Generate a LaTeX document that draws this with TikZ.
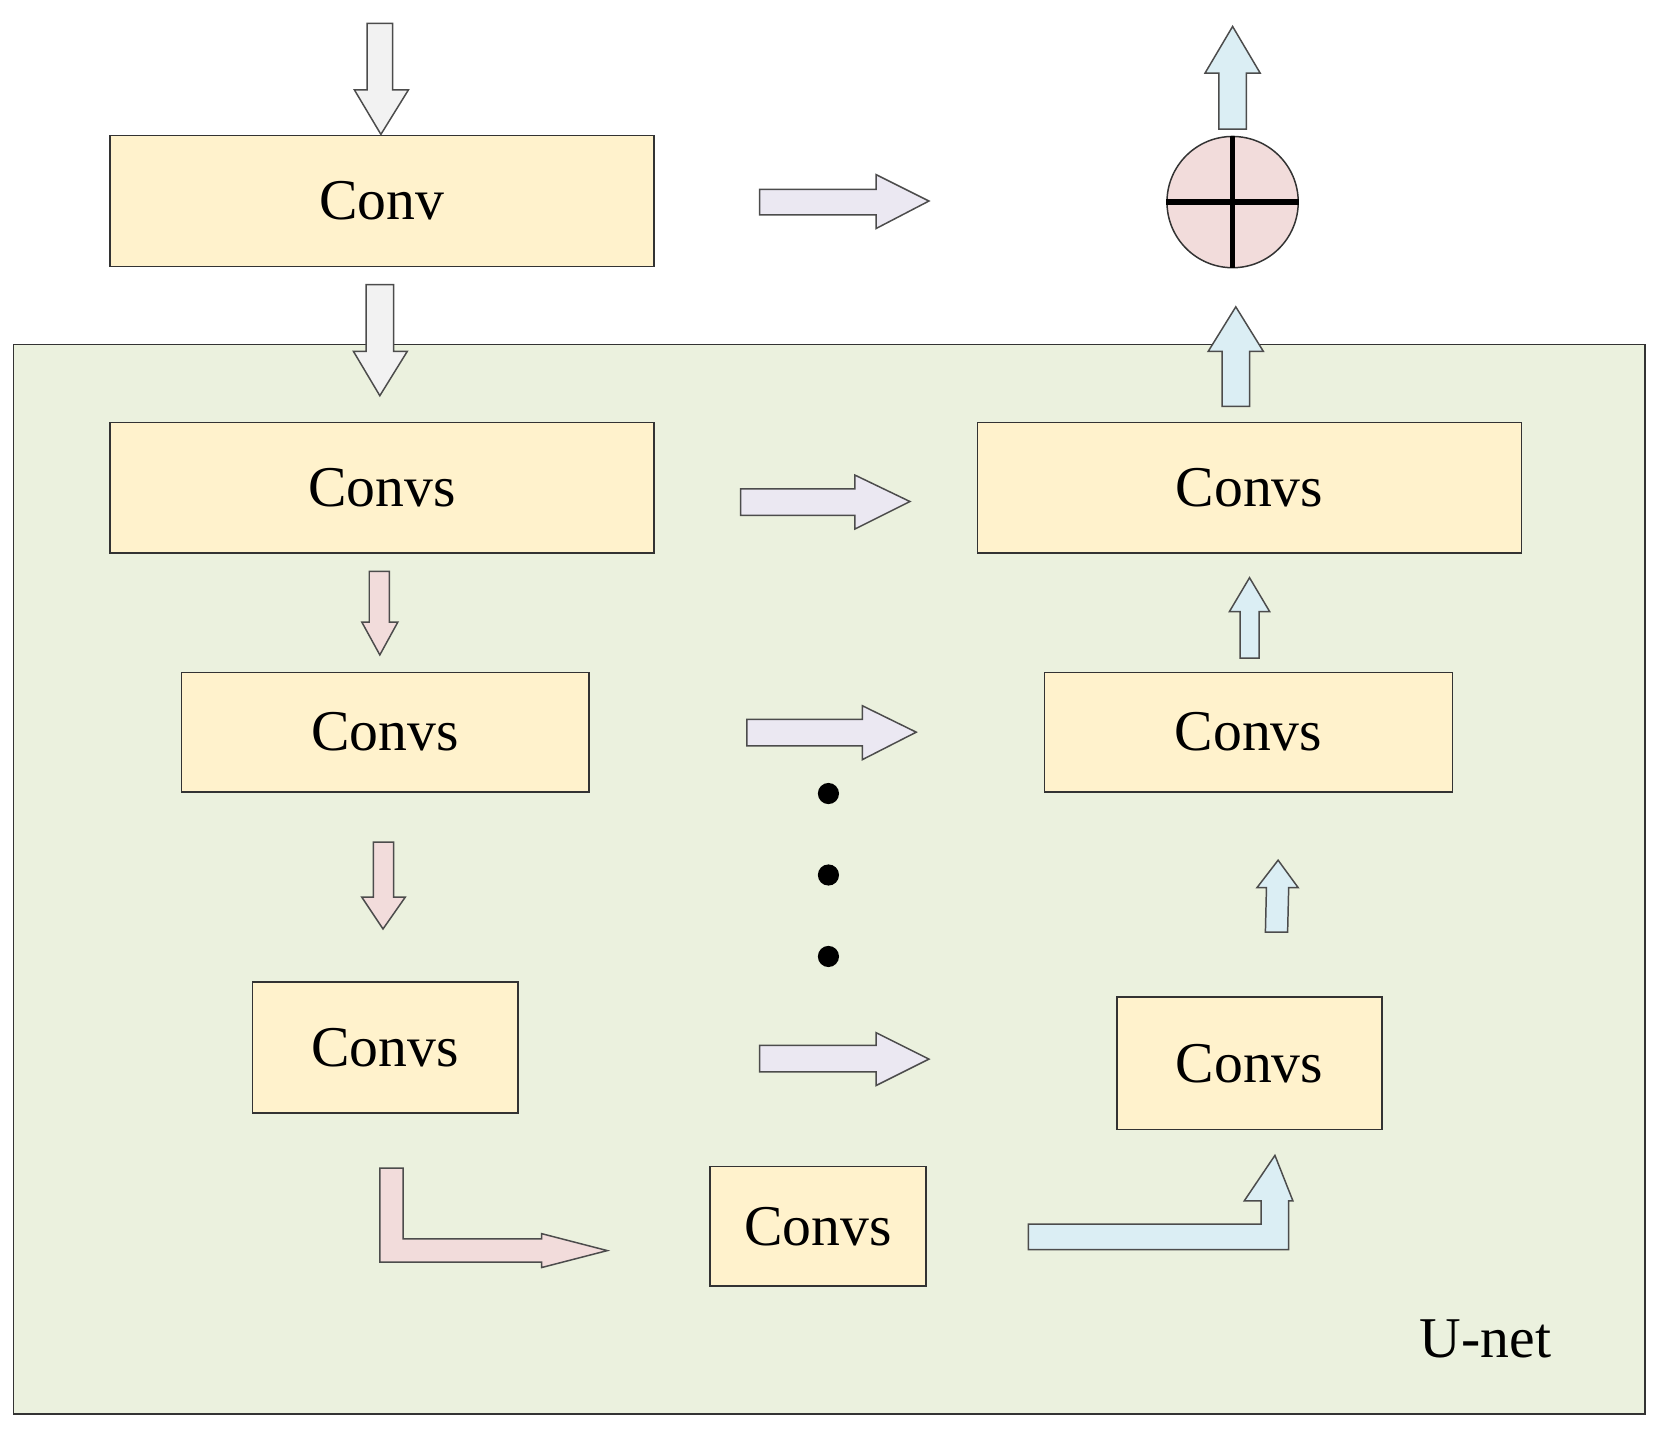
\documentclass[tikz,border=0pt]{standalone}
\usepackage{fontspec}
\setmainfont{Liberation Serif}
\begin{document}
\begin{tikzpicture}[x=0.01cm,y=-0.01cm,
  box/.style={draw=black!80,fill=yel,inner sep=0,font=\fontsize{15.5}{17}\selectfont},
  ga/.style={draw=black!70,fill=gry,line width=0.4pt},
  pa/.style={draw=black!70,fill=pnk,line width=0.4pt},
  la/.style={draw=black!70,fill=lav,line width=0.4pt},
  ba/.style={draw=black!70,fill=blu,line width=0.4pt}]
\definecolor{yel}{HTML}{FFF2CC}
\definecolor{gry}{HTML}{F2F2F2}
\definecolor{pnk}{HTML}{F2DCDB}
\definecolor{lav}{HTML}{EBE8F2}
\definecolor{blu}{HTML}{DBEEF4}
\definecolor{grn}{HTML}{EBF1DE}
\useasboundingbox (0,0) rectangle (1568,1354);
\node[draw=black!80,fill=grn,minimum width=15.41cm,minimum height=10.1cm,anchor=north west,inner sep=0] (unet) at (12,325) {};
\node[font=\fontsize{15.5}{17}\selectfont] (ulab) at (1404,1265) {U-net};
% boxes
\node[box,minimum width=5.14cm,minimum height=1.24cm] (c0) at (361,190) {Conv};
\node[box,minimum width=5.14cm,minimum height=1.23cm] (d1) at (361,461) {Convs};
\node[box,minimum width=5.14cm,minimum height=1.23cm] (u1) at (1181,461) {Convs};
\node[box,minimum width=3.85cm,minimum height=1.13cm] (d2) at (364,692) {Convs};
\node[box,minimum width=3.85cm,minimum height=1.13cm] (u2) at (1180,692) {Convs};
\node[box,minimum width=2.51cm,minimum height=1.24cm] (d3) at (364,990) {Convs};
\node[box,minimum width=2.5cm,minimum height=1.25cm] (u3) at (1181,1005) {Convs};
\node[box,minimum width=2.04cm,minimum height=1.13cm] (bn) at (773,1159) {Convs};
% circle
\node[draw=black!80,fill=pnk,circle,minimum size=1.24cm,inner sep=0] (sum) at (1165,191) {};
\draw[line width=1.5pt] (sum.west) -- (sum.east) (sum.north) -- (sum.south);
% arrows
\draw[ga] (347,22) -- (371,22) -- (371,85) -- (386,85) -- (360,127) -- (335,85) -- (347,85) -- cycle;
\draw[ga] (346,269) -- (372,269) -- (372,332) -- (385,332) -- (359,374) -- (334,332) -- (346,332) -- cycle;
\draw[la] (718,179) -- (828,179) -- (828,165) -- (878,190) -- (828,216) -- (828,203) -- (718,203) -- cycle;
\draw[la] (700,462) -- (808,462) -- (808,449) -- (860,474) -- (808,500) -- (808,487) -- (700,487) -- cycle;
\draw[la] (706,680) -- (815,680) -- (815,667) -- (866,692) -- (815,718) -- (815,705) -- (706,705) -- cycle;
\draw[la] (718,988) -- (828,988) -- (828,976) -- (878,1001) -- (828,1026) -- (828,1013) -- (718,1013) -- cycle;
\draw[ba] (1152,122) -- (1178,122) -- (1178,69) -- (1191,69) -- (1165,25) -- (1139,69) -- (1152,69) -- cycle;
\draw[ba] (1155,384) -- (1181,384) -- (1181,332) -- (1194,332) -- (1168,290) -- (1142,332) -- (1155,332) -- cycle;
\draw[ba] (1172,622) -- (1190,622) -- (1190,578) -- (1200,578) -- (1181,546) -- (1162,578) -- (1172,578) -- cycle;
\draw[ba] (1196,881) -- (1217,881) -- (1218,839) -- (1227,839) -- (1208,813) -- (1188,839) -- (1197,839) -- cycle;
\draw[pa] (349,540) -- (368,540) -- (368,588) -- (376,588) -- (359,619) -- (342,588) -- (349,588) -- cycle;
\draw[pa] (353,796) -- (372,796) -- (372,848) -- (383,848) -- (362,878) -- (342,848) -- (353,848) -- cycle;
\draw[pa] (359,1104) -- (381,1104) -- (381,1171) -- (512,1171) -- (512,1166) -- (574,1182) -- (512,1198) -- (512,1193) -- (359,1193) -- cycle;
\draw[ba] (972,1157) -- (1192,1157) -- (1192,1135) -- (1176,1135) -- (1205,1092) -- (1222,1135) -- (1218,1135) -- (1218,1181) -- (972,1181) -- cycle;
% dots
\fill (783,750) circle (10) (783,827) circle (10) (783,904) circle (10);
\end{tikzpicture}
\end{document}
